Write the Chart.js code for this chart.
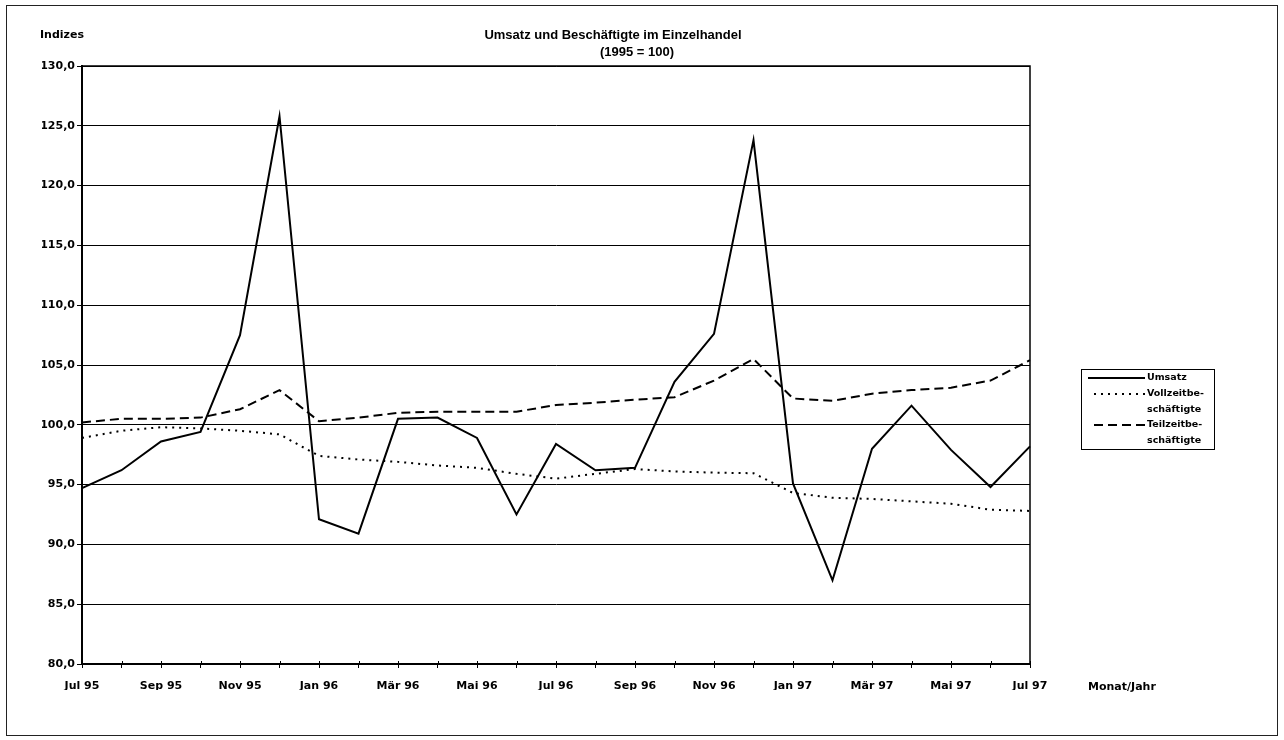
<!DOCTYPE html>
<html>
<head>
<meta charset="utf-8">
<script src="https://cdn.jsdelivr.net/npm/chart.js@4"></script>
<style>
html,body{margin:0;padding:0;background:#fff;}
#wrap{width:1284px;height:740px;position:relative;}
</style>
</head>
<body>
<div id="wrap"><canvas id="c" width="1284" height="740"></canvas></div>
<script>
const months = ['Jul 95','Aug 95','Sep 95','Okt 95','Nov 95','Dez 95','Jan 96','Feb 96','Mär 96','Apr 96','Mai 96','Jun 96','Jul 96','Aug 96','Sep 96','Okt 96','Nov 96','Dez 96','Jan 97','Feb 97','Mär 97','Apr 97','Mai 97','Jun 97','Jul 97'];
const umsatz = [94.7,96.2,98.6,99.4,107.5,125.8,92.1,90.9,100.5,100.6,98.9,92.5,98.4,96.2,96.4,103.6,107.6,123.8,95.1,87.0,98.0,101.6,97.9,94.8,98.2];
const vollzeit = [98.9,99.5,99.8,99.7,99.5,99.2,97.4,97.1,96.9,96.6,96.4,95.9,95.5,95.9,96.3,96.1,96.0,95.95,94.3,93.9,93.8,93.6,93.4,92.9,92.8];
const teilzeit = [100.2,100.5,100.5,100.6,101.3,102.9,100.3,100.6,101.0,101.1,101.1,101.1,101.65,101.85,102.1,102.3,103.7,105.5,102.2,102.0,102.6,102.9,103.1,103.7,105.4];
const seriesNames = ['Umsatz','Vollzeitbeschäftigte','Teilzeitbeschäftigte'];
const legendLines = [['Umsatz'],['Vollzeitbe-','schäftigte'],['Teilzeitbe-','schäftigte']];
const titleLines = ['Umsatz und Beschäftigte im Einzelhandel','(1995 = 100)'];
const yTitle = 'Indizes';
const xTitle = 'Monat/Jahr';
const yMin = 80, yMax = 130, yStep = 5;

const TFONT = '"Liberation Sans", Arial, sans-serif';
const FONT = '"DejaVu Sans", sans-serif';

const decor = {
  id: 'decor',
  beforeDraw(chart) {
    const ctx = chart.ctx;
    ctx.save();
    ctx.fillStyle = '#fff';
    ctx.fillRect(0, 0, chart.width, chart.height);
    ctx.strokeStyle = '#222';
    ctx.lineWidth = 1;
    ctx.strokeRect(6.5, 5.5, 1271, 730);
    ctx.restore();
  },
  afterDatasetsDraw(chart) {
    const ctx = chart.ctx;
    const a = chart.chartArea;
    ctx.save();
    ctx.strokeStyle = '#000';
    ctx.lineWidth = 1.5;
    ctx.beginPath();
    ctx.moveTo(a.left, a.top); ctx.lineTo(a.right, a.top); ctx.lineTo(a.right, a.bottom);
    ctx.stroke();
    // x tick marks crossing the axis (upper half)
    const xs = chart.scales.x;
    ctx.lineWidth = 1;
    ctx.beginPath();
    for (let i = 0; i < months.length; i++) {
      const px = Math.round(xs.getPixelForValue(i)) + 0.5;
      ctx.moveTo(px, a.bottom - 3); ctx.lineTo(px, a.bottom);
    }
    ctx.stroke();
    ctx.fillStyle = '#000';
    ctx.textAlign = 'center';
    ctx.textBaseline = 'middle';
    ctx.font = 'bold 13px ' + TFONT;
    ctx.fillText(titleLines[0], 613, 35);
    ctx.fillText(titleLines[1], 637, 52);
    ctx.font = 'bold 11px ' + FONT;
    ctx.textAlign = 'left';
    ctx.fillText(yTitle, 40, 35);
    ctx.fillText(xTitle, 1088, 687);
    // legend
    const bx = 1081, by = 369, bw = 133, bh = 80;
    ctx.lineWidth = 1;
    ctx.strokeStyle = '#000';
    ctx.strokeRect(bx + 0.5, by + 0.5, bw, bh);
    ctx.font = 'bold 9.5px ' + FONT;
    const rows = [378, 394, 425];
    chart.data.datasets.forEach((ds, i) => {
      const y = rows[i];
      ctx.save();
      ctx.strokeStyle = ds.borderColor;
      ctx.lineWidth = ds.borderWidth;
      ctx.setLineDash(ds.borderDash || []);
      ctx.beginPath();
      ctx.moveTo(i === 0 ? 1088 : 1094, y); ctx.lineTo(1145, y);
      ctx.stroke();
      ctx.restore();
      legendLines[i].forEach((t, k) => {
        ctx.fillText(t, 1147, y + k * 15.6);
      });
    });
    ctx.restore();
  }
};

new Chart(document.getElementById('c'), {
  type: 'line',
  data: {
    labels: months,
    datasets: [
      { label: seriesNames[0], data: umsatz, borderColor: '#000', borderWidth: 2, pointRadius: 0, tension: 0, fill: false },
      { label: seriesNames[1], data: vollzeit, borderColor: '#000', borderWidth: 2, borderDash: [2, 5], pointRadius: 0, tension: 0, fill: false },
      { label: seriesNames[2], data: teilzeit, borderColor: '#000', borderWidth: 2, borderDash: [9, 5], pointRadius: 0, tension: 0, fill: false }
    ]
  },
  options: {
    responsive: false,
    animation: false,
    devicePixelRatio: 1,
    layout: { padding: { left: 42, top: 66, right: 254, bottom: 50 } },
    plugins: { legend: { display: false }, title: { display: false }, tooltip: { enabled: false } },
    scales: {
      x: {
        type: 'category',
        offset: false,
        afterFit: s => { s.height = 26; },
        border: { display: true, color: '#000', width: 2 },
        grid: { drawOnChartArea: false, drawTicks: true, tickLength: 4, color: '#000', lineWidth: 1 },
        ticks: {
          autoSkip: false, maxRotation: 0, minRotation: 0, padding: 12, color: '#000',
          font: { family: FONT, size: 11, weight: 'bold' },
          callback: function(v, i) { return i % 2 === 0 ? this.getLabelForValue(v) : ''; }
        }
      },
      y: {
        min: yMin, max: yMax,
        afterFit: s => { s.width = 40; },
        border: { display: true, color: '#000', width: 2 },
        grid: { color: '#000', lineWidth: 1, drawTicks: true, tickLength: 5 },
        ticks: {
          stepSize: yStep, padding: 2, color: '#000',
          font: { family: FONT, size: 11, weight: 'bold' },
          callback: v => v.toFixed(1).replace('.', ',')
        }
      }
    }
  },
  plugins: [decor]
});
</script>
</body>
</html>
